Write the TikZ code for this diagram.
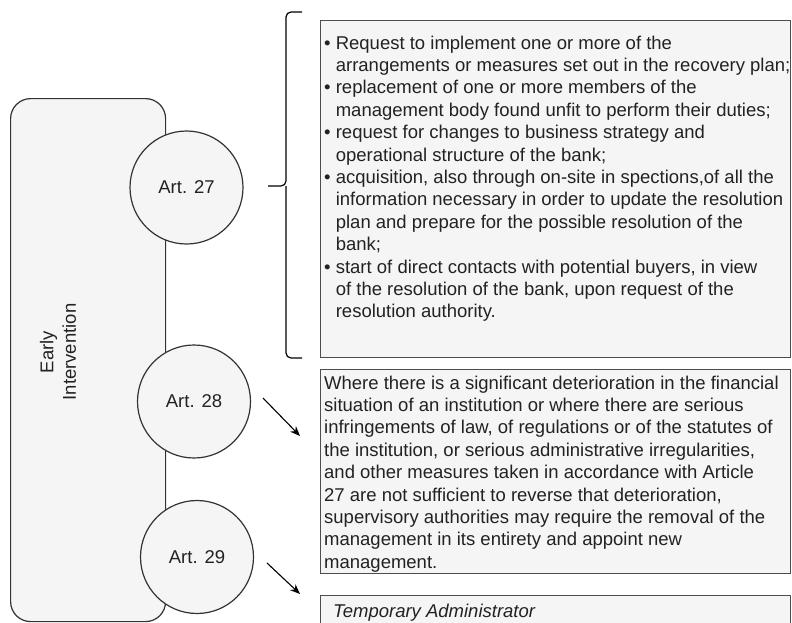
\documentclass[tikz,border=0pt]{standalone}
\usepackage{fontspec}
\setmainfont{Liberation Sans}
\usetikzlibrary{arrows.meta}

\definecolor{panelfill}{HTML}{F5F5F5}
\definecolor{edge}{HTML}{333333}
\definecolor{boxedge}{HTML}{4D4D4D}
\definecolor{ink}{HTML}{222222}

% width of a bullet and its space, for hanging lines
\newcommand\hangpad{\hphantom{\textbullet\ }}

\tikzset{
  base/.style={font=\fontsize{18.5}{22.4}\selectfont, text=ink},
  panel/.style={draw=edge, line width=1.2pt, fill=panelfill, rounded corners=20pt,
    inner sep=0pt, anchor=north west},
  article/.style={base, circle, draw=edge, line width=1.2pt, fill=panelfill,
    minimum size=113pt, inner sep=0pt},
  textbox/.style={draw=boxedge, line width=1.2pt, fill=panelfill, inner sep=0pt,
    anchor=north west},
  boxtext/.style={base, align=left, anchor=north west, inner sep=0pt},
  pointer/.style={draw=black, line width=1.1pt, -{Stealth[length=10pt,width=8pt]}},
  bracket/.style={draw=black, line width=1.2pt, rounded corners=5pt},
}

\begin{document}
\begin{tikzpicture}[x=1pt, y=-1pt]
  \useasboundingbox (0,0) rectangle (792,622);

  % vertical panel with its label
  \node[panel, minimum width=155pt, minimum height=523pt] (panel) at (10,98) {};
  \node[base, rotate=90, align=center] (panellabel) at (58,352) {Early\\Intervention};

  % the three articles
  \node[article] (a27) at (186.5,187.5) {Art. 27};
  \node[article] (a28) at (194,401.5) {Art. 28};
  \node[article] (a29) at (197,557) {Art. 29};

  % measures of Art. 27
  \node[textbox, minimum width=470pt, minimum height=337pt] (box27) at (320,20) {};
  \node[boxtext] (text27) at (324,35.5) {%
    \textbullet\ Request to implement one or more of the\\
    \hangpad arrangements or measures set out in the recovery plan;\\
    \textbullet\ replacement of one or more members of the\\
    \hangpad management body found unfit to perform their duties;\\
    \textbullet\ request for changes to business strategy and\\
    \hangpad operational structure of the bank;\\
    \textbullet\ acquisition, also through on-site in spections,of all the\\
    \hangpad information necessary in order to update the resolution\\
    \hangpad plan and prepare for the possible resolution of the\\
    \hangpad bank;\\
    \textbullet\ start of direct contacts with potential buyers, in view\\
    \hangpad of the resolution of the bank, upon request of the\\
    \hangpad resolution authority.};

  % Art. 28 text
  \node[textbox, minimum width=470pt, minimum height=204pt] (box28) at (320,369) {};
  \node[boxtext] (text28) at (324,375.5) {%
    Where there is a significant deterioration in the financial\\
    situation of an institution or where there are serious\\
    infringements of law, of regulations or of the statutes of\\
    the institution, or serious administrative irregularities,\\
    and other measures taken in accordance with Article\\
    27 are not sufficient to reverse that deterioration,\\
    supervisory authorities may require the removal of the\\
    management in its entirety and appoint new\\
    management.};

  % Art. 29 text
  \node[textbox, minimum width=470pt, minimum height=40pt] (box29) at (320,595) {};
  \node[boxtext] (text29) at (333,604) {\itshape Temporary Administrator};

  % curly bracket gathering the Art. 27 measures
  \coordinate (brtop) at (302,12);
  \coordinate (brtip) at (268,186);
  \coordinate (brbot) at (302,358);
  \draw[bracket] (brtop) -- (286,12) -- (286,186) -- (brtip);
  \draw[bracket] (286,186) -- (286,358) -- (brbot);

  % pointers to the Art. 28 and Art. 29 texts
  \coordinate (p28s) at (263,398);
  \coordinate (p28e) at (300,436);
  \coordinate (p29s) at (267,563);
  \coordinate (p29e) at (300,594);
  \draw[pointer] (p28s) -- (p28e);
  \draw[pointer] (p29s) -- (p29e);
\end{tikzpicture}
\end{document}
